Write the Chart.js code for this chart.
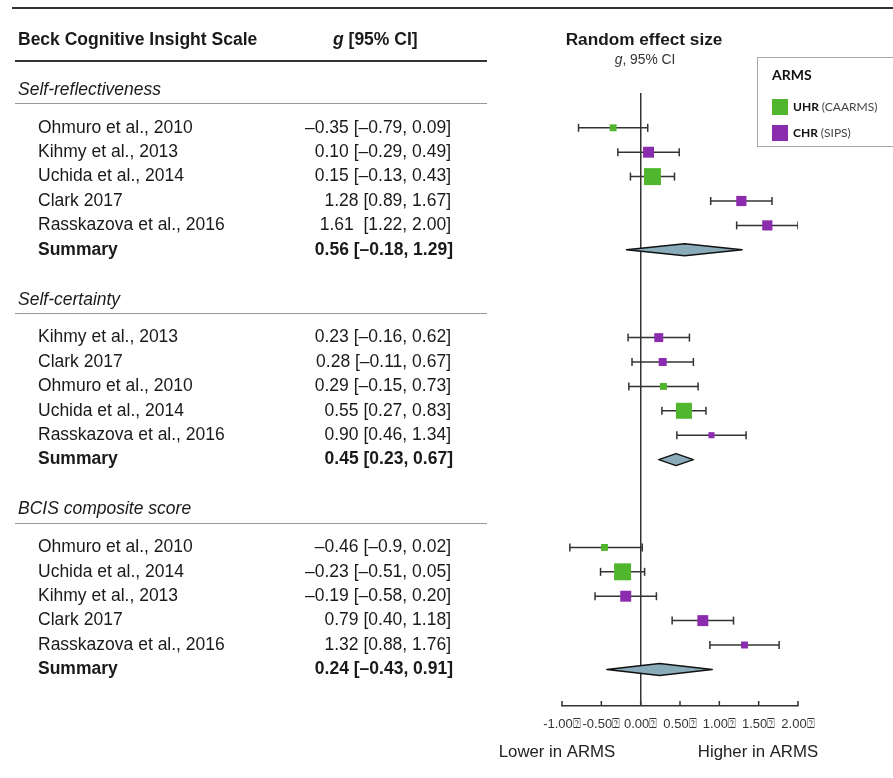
<!DOCTYPE html>
<html>
<head>
<meta charset="utf-8">
<script src="https://cdn.jsdelivr.net/npm/chart.js@4.4.0/dist/chart.umd.min.js"></script>
<style>
  body { margin: 0; background: #fff; }
  canvas { display: block; }
</style>
</head>
<body>
<canvas id="forest" width="893" height="778"></canvas>
<script>
// values
const sections = ['Self-reflectiveness', 'Self-certainty', 'BCIS composite score'];
const studies = [
  ['Ohmuro et al., 2010', 'Kihmy et al., 2013', 'Uchida et al., 2014', 'Clark 2017', 'Rasskazova et al., 2016'],
  ['Kihmy et al., 2013', 'Clark 2017', 'Ohmuro et al., 2010', 'Uchida et al., 2014', 'Rasskazova et al., 2016'],
  ['Ohmuro et al., 2010', 'Uchida et al., 2014', 'Kihmy et al., 2013', 'Clark 2017', 'Rasskazova et al., 2016']
];
const gValues = [[-0.35, 0.10, 0.15, 1.28, 1.61], [0.23, 0.28, 0.29, 0.55, 0.90], [-0.46, -0.23, -0.19, 0.79, 1.32]];
const ciLow = [[-0.79, -0.29, -0.13, 0.89, 1.22], [-0.16, -0.11, -0.15, 0.27, 0.46], [-0.9, -0.51, -0.58, 0.40, 0.88]];
const ciHigh = [[0.09, 0.49, 0.43, 1.67, 2.00], [0.62, 0.67, 0.73, 0.83, 1.34], [0.02, 0.05, 0.20, 1.18, 1.76]];
const ciLabels = [
  ['\u20130.35 [\u20130.79, 0.09]', '0.10 [\u20130.29, 0.49]', '0.15 [\u20130.13, 0.43]', '1.28 [0.89, 1.67]', '1.61  [1.22, 2.00]'],
  ['0.23 [\u20130.16, 0.62]', '0.28 [\u20130.11, 0.67]', '0.29 [\u20130.15, 0.73]', '0.55 [0.27, 0.83]', '0.90 [0.46, 1.34]'],
  ['\u20130.46 [\u20130.9, 0.02]', '\u20130.23 [\u20130.51, 0.05]', '\u20130.19 [\u20130.58, 0.20]', '0.79 [0.40, 1.18]', '1.32 [0.88, 1.76]']
];
const groups = [['UHR', 'CHR', 'UHR', 'CHR', 'CHR'], ['CHR', 'CHR', 'UHR', 'UHR', 'CHR'], ['UHR', 'UHR', 'CHR', 'CHR', 'CHR']];
const weights = [[3, 7.5, 18, 6.5, 6.5], [5, 4, 3, 16, 2.3], [3, 18, 7.5, 7.5, 3]];
const summaryG = [0.56, 0.45, 0.24];
const summaryLow = [-0.18, 0.23, -0.43];
const summaryHigh = [1.29, 0.67, 0.91];
const summaryLabels = ['0.56 [\u20130.18, 1.29]', '0.45 [0.23, 0.67]', '0.24 [\u20130.43, 0.91]'];
const groupNames = ['UHR', 'CHR'];
const groupTools = ['(CAARMS)', '(SIPS)'];
const groupColors = ['#50b62d', '#8b2cae'];
const xTicks = [-1, -0.5, 0, 0.5, 1, 1.5, 2];
const xTickLabels = ['-1.00\u2370', '-0.50\u2370', '0.00\u2370', '0.50\u2370', '1.00\u2370', '1.50\u2370', '2.00\u2370'];

// row layout (in row units, top to bottom)
const SECTION_STEP = 8.6;
const headerY = s => s * SECTION_STEP;
const rowY = (s, i) => s * SECTION_STEP + 1.55 + i;

const FONT = 'Liberation Sans, Arial, sans-serif';
const TXT = '17.5px ' + FONT;

// error bars: one little line per study, caps drawn as rotated 'line' points
const ciSets = [];
studies.forEach((list, s) => {
  list.forEach((name, i) => {
    ciSets.push({
      type: 'scatter',
      showLine: true,
      data: [{ x: ciLow[s][i], y: rowY(s, i) }, { x: ciHigh[s][i], y: rowY(s, i) }],
      borderColor: '#333',
      borderWidth: 1.5,
      pointStyle: 'line',
      pointRotation: 90,
      pointRadius: 4,
      pointBorderColor: '#333',
      pointBorderWidth: 1.5,
      order: 2
    });
  });
});

// squares, one dataset per ARMS group
const squareSets = groupNames.map((gName, k) => {
  const pts = [], radii = [];
  studies.forEach((list, s) => {
    list.forEach((name, i) => {
      if (groups[s][i] === gName) {
        pts.push({ x: gValues[s][i], y: rowY(s, i) });
        radii.push(4 * Math.sqrt(weights[s][i]) / Math.SQRT2);
      }
    });
  });
  return {
    type: 'scatter',
    label: gName,
    data: pts,
    pointStyle: 'rect',
    pointRadius: radii,
    backgroundColor: groupColors[k],
    borderWidth: 0,
    order: 1
  };
});

const forestDecor = {
  id: 'forestDecor',
  afterDatasetsDraw(chart) {
    const { ctx, scales: { x, y } } = chart;
    ctx.save();
    // summary diamonds
    summaryG.forEach((g, s) => {
      const yc = y.getPixelForValue(rowY(s, 5));
      const half = 6;
      ctx.beginPath();
      ctx.moveTo(x.getPixelForValue(summaryLow[s]), yc);
      ctx.lineTo(x.getPixelForValue(g), yc - half);
      ctx.lineTo(x.getPixelForValue(summaryHigh[s]), yc);
      ctx.lineTo(x.getPixelForValue(g), yc + half);
      ctx.closePath();
      ctx.fillStyle = '#8aabba';
      ctx.fill();
      ctx.lineWidth = 1.5;
      ctx.lineJoin = 'round';
      ctx.strokeStyle = '#111';
      ctx.stroke();
    });
    // inward tick marks on the axis
    const yb = chart.chartArea.bottom;
    ctx.strokeStyle = '#333';
    ctx.lineWidth = 1.5;
    xTicks.forEach(v => {
      const px = x.getPixelForValue(v);
      ctx.beginPath();
      ctx.moveTo(px, yb);
      ctx.lineTo(px, yb - 5);
      ctx.stroke();
    });
    ctx.restore();
  },
  afterDraw(chart) {
    const { ctx, scales: { y } } = chart;
    ctx.save();
    ctx.textBaseline = 'middle';
    ctx.fillStyle = '#1a1a1a';

    // top rules
    ctx.strokeStyle = '#333';
    ctx.lineWidth = 2;
    ctx.beginPath(); ctx.moveTo(12, 8); ctx.lineTo(893, 8); ctx.stroke();
    ctx.beginPath(); ctx.moveTo(15, 61); ctx.lineTo(487, 61); ctx.stroke();

    // column headers
    ctx.font = 'bold ' + TXT;
    ctx.textAlign = 'left';
    ctx.fillText('Beck Cognitive Insight Scale', 18, 40);
    ctx.font = 'italic bold ' + TXT;
    ctx.fillText('g', 333, 40);
    const gw = ctx.measureText('g').width;
    ctx.font = 'bold ' + TXT;
    ctx.fillText(' [95% CI]', 333 + gw, 40);

    ctx.textAlign = 'center';
    ctx.font = 'bold 17.2px ' + FONT;
    ctx.fillText('Random effect size', 644, 40);
    ctx.font = '13.8px ' + FONT;
    ctx.fillStyle = '#333';
    const restW = ctx.measureText(', 95% CI').width;
    ctx.font = 'italic 13.8px ' + FONT;
    const gw2 = ctx.measureText('g').width;
    const startX = 645 - (restW + gw2) / 2;
    ctx.textAlign = 'left';
    ctx.fillText('g', startX, 60);
    ctx.font = '13.8px ' + FONT;
    ctx.fillText(', 95% CI', startX + gw2, 60);

    // sections and rows
    ctx.fillStyle = '#1a1a1a';
    sections.forEach((title, s) => {
      const hy = y.getPixelForValue(headerY(s));
      ctx.font = 'italic ' + TXT;
      ctx.textAlign = 'left';
      ctx.fillText(title, 18, hy);
      ctx.strokeStyle = '#999';
      ctx.lineWidth = 1;
      const ly = Math.round(hy + 13) + 0.5;
      ctx.beginPath(); ctx.moveTo(15, ly); ctx.lineTo(487, ly); ctx.stroke();

      ctx.font = TXT;
      studies[s].forEach((name, i) => {
        const ry = y.getPixelForValue(rowY(s, i));
        ctx.textAlign = 'left';
        ctx.fillText(name, 38, ry);
        ctx.textAlign = 'right';
        ctx.fillText(ciLabels[s][i], 451, ry);
      });
      const sy = y.getPixelForValue(rowY(s, 5));
      ctx.font = 'bold ' + TXT;
      ctx.textAlign = 'left';
      ctx.fillText('Summary', 38, sy);
      ctx.textAlign = 'right';
      ctx.fillText(summaryLabels[s], 453, sy);
    });

    // direction labels under the axis
    ctx.font = '16.8px ' + FONT;
    ctx.fillStyle = '#222';
    ctx.textAlign = 'center';
    ctx.fillText('Lower in ARMS', 557, 752);
    ctx.fillText('Higher in ARMS', 758, 752);

    // legend box
    ctx.strokeStyle = '#a8a8a8';
    ctx.lineWidth = 1;
    ctx.strokeRect(757.5, 57.5, 140, 89);
    ctx.textAlign = 'left';
    ctx.fillStyle = '#111';
    ctx.font = 'bold 14px Lato, sans-serif';
    ctx.fillText('ARMS', 772, 75);
    groupNames.forEach((gName, k) => {
      const ly = 107 + k * 26;
      ctx.fillStyle = groupColors[k];
      ctx.fillRect(772, ly - 8, 16, 16);
      ctx.fillStyle = '#111';
      ctx.font = 'bold 12px Lato, sans-serif';
      ctx.fillText(gName, 793, ly);
      const w = ctx.measureText(gName + ' ').width;
      ctx.font = '12px Lato, sans-serif';
      ctx.fillStyle = '#444';
      ctx.fillText(groupTools[k], 793 + w, ly);
    });
    ctx.restore();
  }
};

new Chart(document.getElementById('forest'), {
  type: 'scatter',
  data: { datasets: [...squareSets, ...ciSets] },
  options: {
    responsive: false,
    animation: false,
    devicePixelRatio: 1,
    layout: { padding: { left: 562, right: 95, top: 93, bottom: 42 } },
    plugins: { legend: { display: false }, tooltip: { enabled: false } },
    scales: {
      x: {
        type: 'linear',
        position: 'bottom',
        min: -1,
        max: 2,
        afterBuildTicks: axis => { axis.ticks = xTicks.map(v => ({ value: v })); },
        afterFit: axis => { axis.height = 30; },
        ticks: {
          autoSkip: false,
          maxRotation: 0,
          padding: 11,
          color: '#333',
          font: { family: FONT, size: 13 },
          callback: v => xTickLabels[xTicks.indexOf(v)]
        },
        grid: {
          drawTicks: false,
          lineWidth: 1.5,
          color: c => (c.tick && c.tick.value === 0 ? '#333' : 'rgba(0,0,0,0)')
        },
        border: { color: '#333', width: 1.5 }
      },
      y: {
        type: 'linear',
        display: false,
        reverse: true,
        min: 0.123,
        max: 25.25
      }
    }
  },
  plugins: [forestDecor]
});
</script>
</body>
</html>
